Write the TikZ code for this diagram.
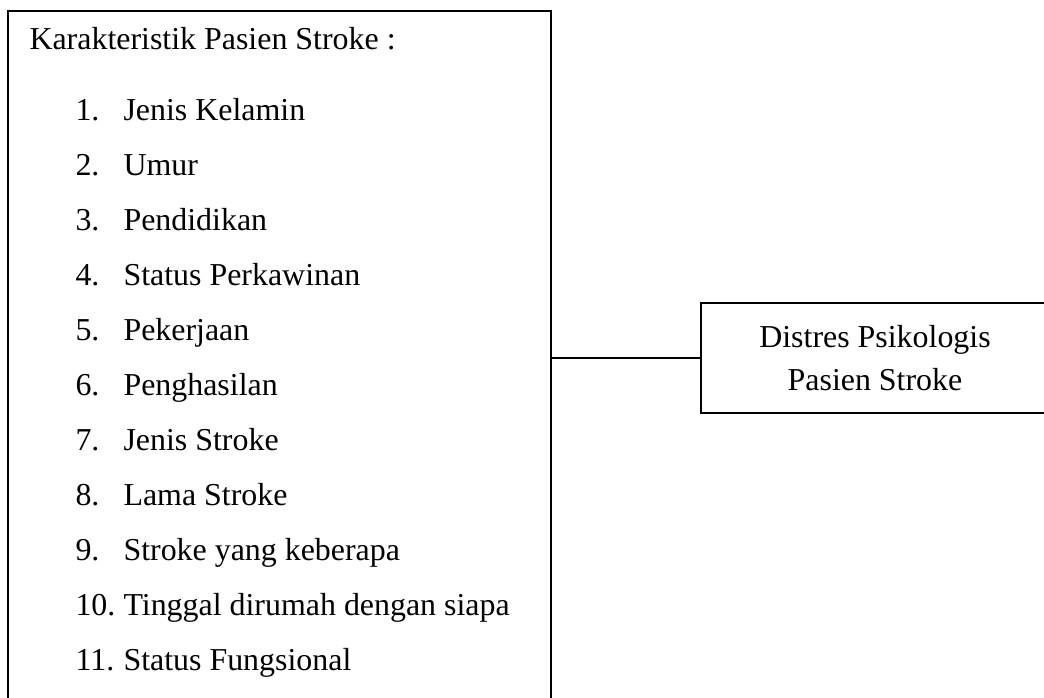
\documentclass[tikz,border=0pt]{standalone}
\usepackage{fontspec}
\setmainfont{Liberation Serif}
\usetikzlibrary{positioning}

\begin{document}
\begin{tikzpicture}[
  x=0.376pt, y=-0.376pt,
  framebox/.style={draw=black, line width=0.6pt, inner sep=0pt},
  itemtext/.style={anchor=base west, inner sep=0pt, font=\fontsize{12}{14}\selectfont},
]
\clip (0,0) rectangle (1044,697);
\node[framebox, anchor=north west, minimum width=543*0.376pt, minimum height=700*0.376pt] (karakteristik) at (7,10) {};
\node[itemtext] (judul) at (29,49) {Karakteristik Pasien Stroke :};
\foreach \nomor/\isi [count=\i] in {1/Jenis Kelamin, 2/Umur, 3/Pendidikan, 4/Status Perkawinan,
    5/Pekerjaan, 6/Penghasilan, 7/Jenis Stroke, 8/Lama Stroke, 9/Stroke yang keberapa,
    10/Tinggal dirumah dengan siapa, 11/Status Fungsional}{
  \node[itemtext] (n\i) at (75,{120+(\i-1)*55}) {\nomor.};
  \node[itemtext] (t\i) at (123,{120+(\i-1)*55}) {\isi};
}
\node[framebox, minimum width=348*0.376pt, minimum height=110*0.376pt, align=center,
  font=\fontsize{12}{16.2}\selectfont] (distres) at (875,358) {Distres Psikologis\\Pasien Stroke};
\draw[line width=0.6pt] (distres.west) -- (distres.west -| karakteristik.east);
\end{tikzpicture}
\end{document}
